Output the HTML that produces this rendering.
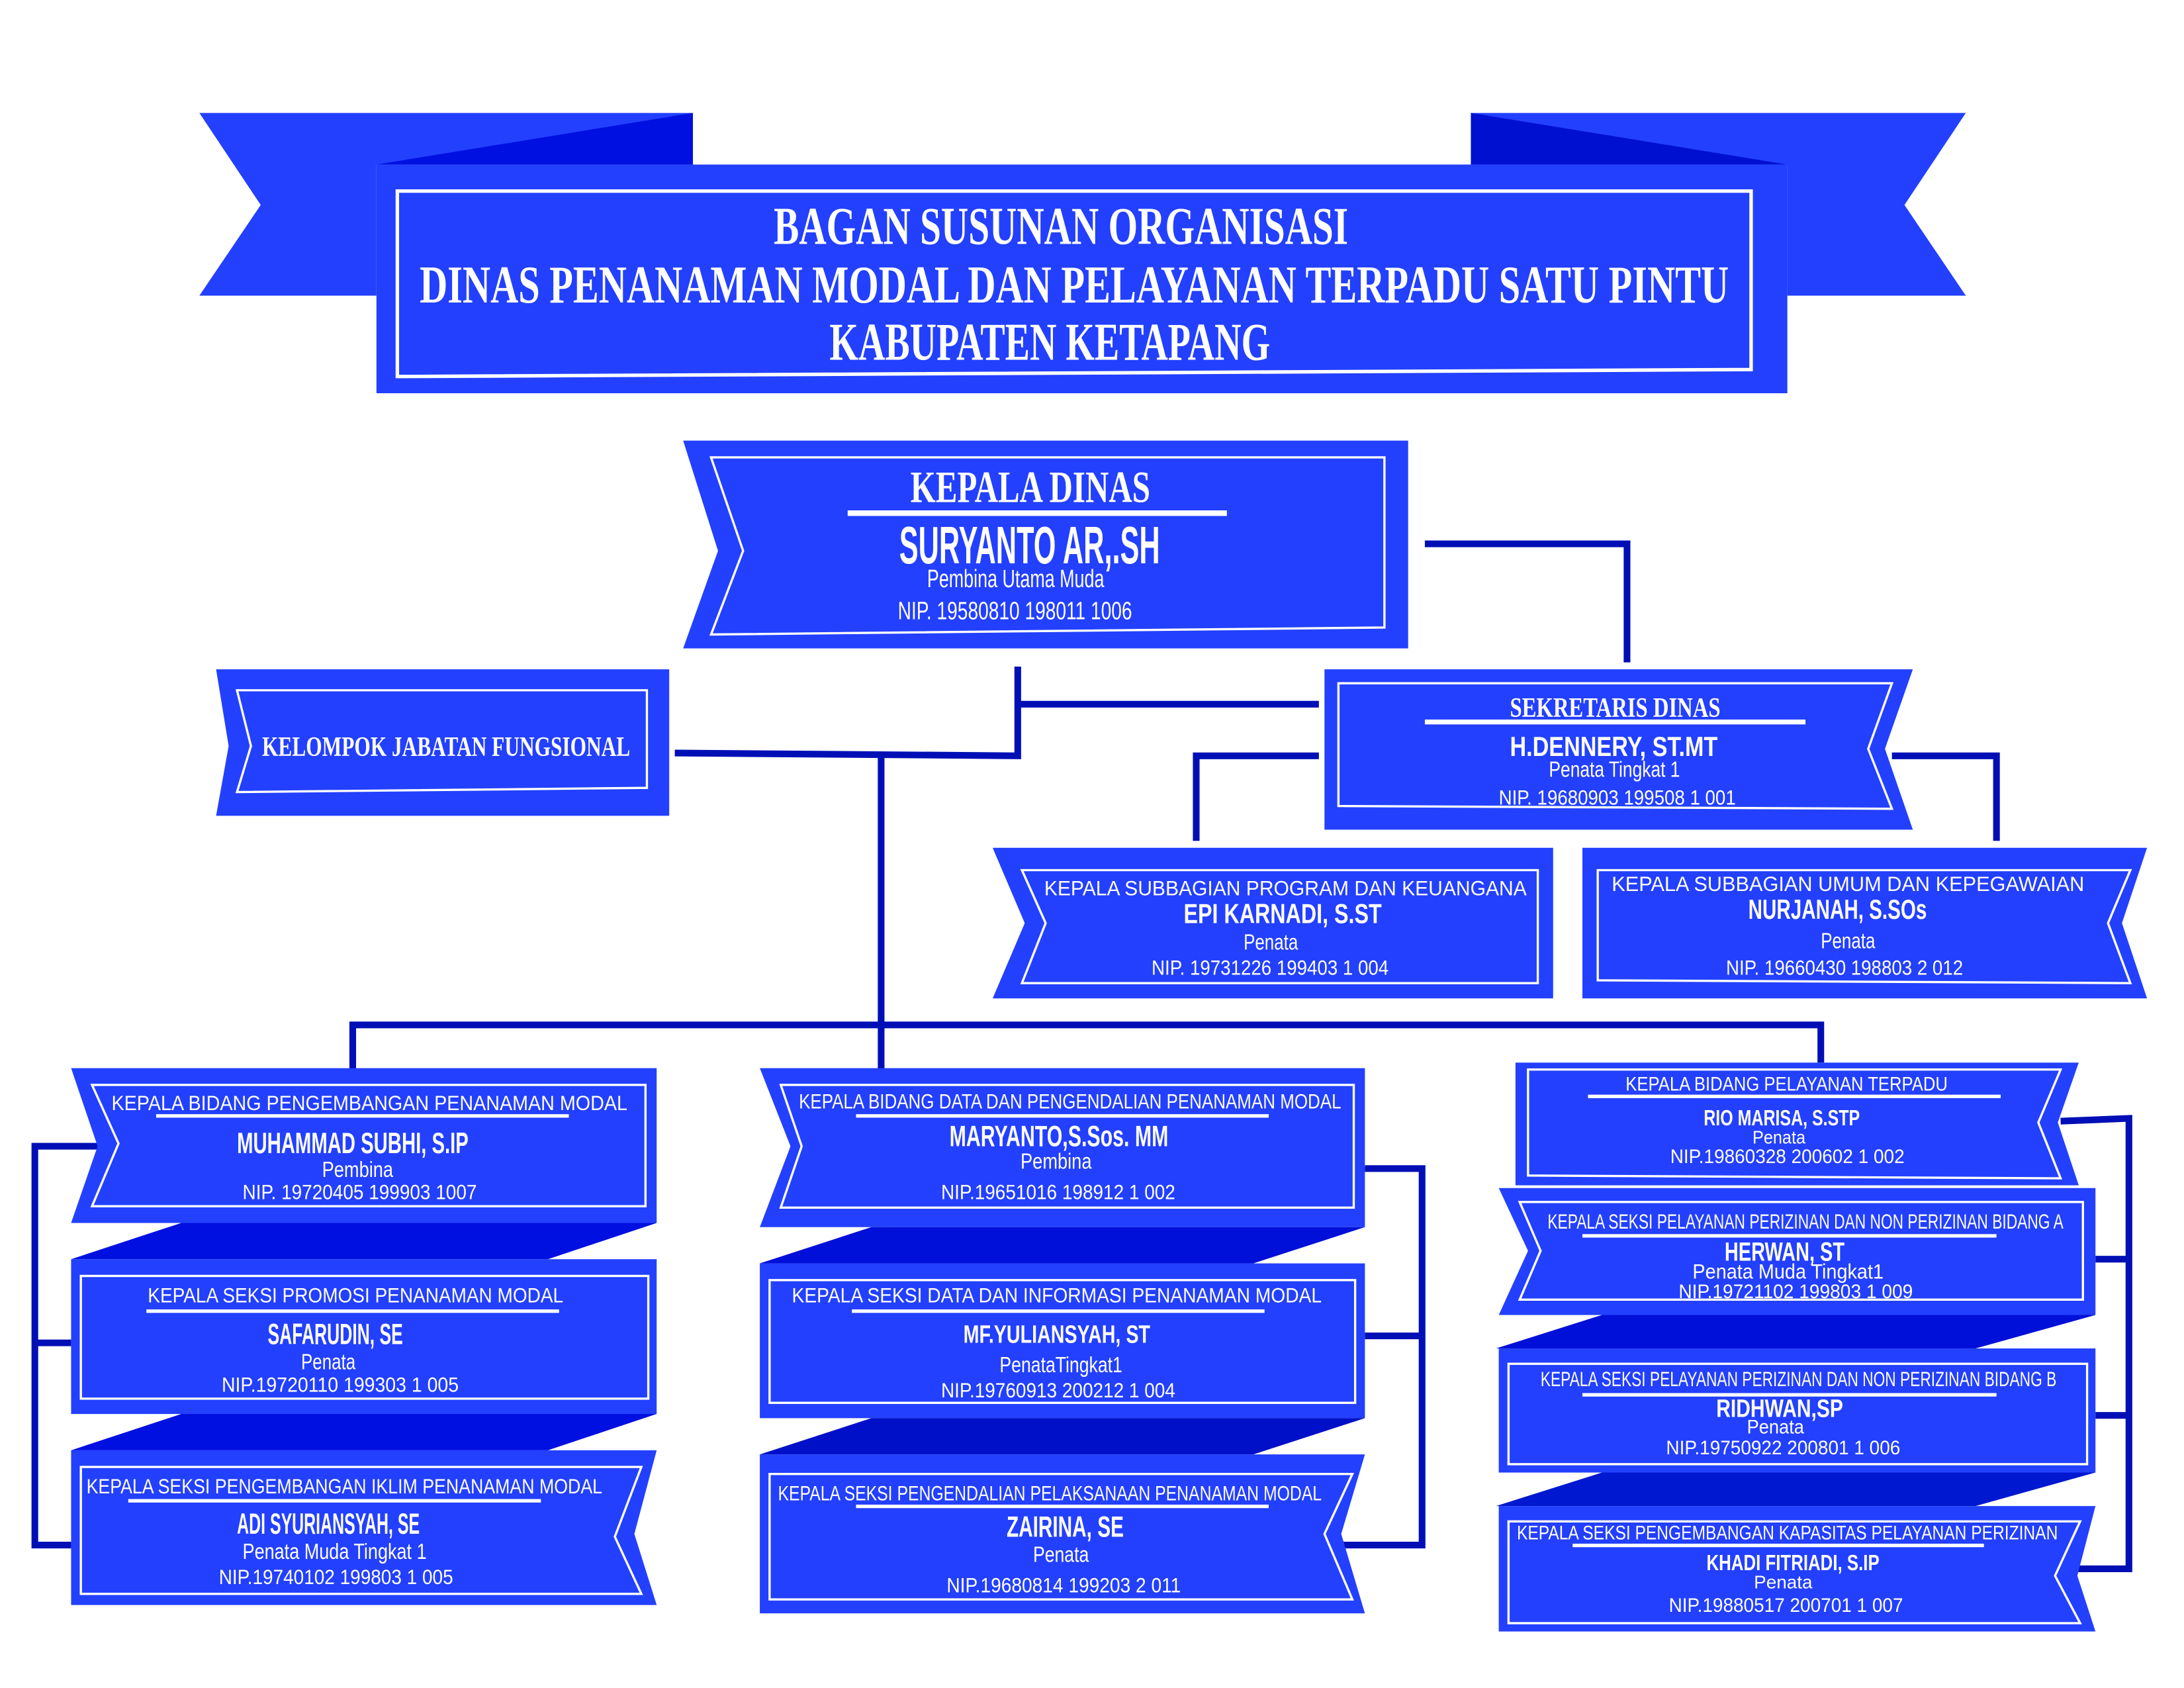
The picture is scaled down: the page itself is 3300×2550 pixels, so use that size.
<!DOCTYPE html>
<html><head><meta charset="utf-8"><style>
html,body{margin:0;padding:0;background:#fff;}
svg{display:block;}
.t{font-family:"Liberation Serif",serif;font-weight:bold;fill:#fff;}
.n{font-family:"Liberation Sans",sans-serif;font-weight:bold;fill:#fff;}
.r{font-family:"Liberation Sans",sans-serif;fill:#fff;}
</style></head><body>
<svg width="3300" height="2550" viewBox="0 0 1566.5 1210.5" preserveAspectRatio="none" xmlns="http://www.w3.org/2000/svg">
<g fill="#2340FF">
<polygon points="143,81 497,81 497,118 270,118 270,212 143,212 187,147"/>
<polygon points="1410,81 1055,81 1055,118 1282,118 1282,212 1410,212 1366,147"/>
<polygon points="270,118 497,81 497,118" fill="#0010E0"/>
<polygon points="1282,118 1055,81 1055,118" fill="#0010D0"/>
<rect x="270" y="118" width="1012" height="164"/>
</g>
<polygon points="285,137 1256,137 1256,265 285,270" fill="none" stroke="#fff" stroke-width="2.5"/>
<text class="t" x="555" y="175" font-size="38" textLength="412" lengthAdjust="spacingAndGlyphs">BAGAN SUSUNAN ORGANISASI</text>
<text class="t" x="301" y="217" font-size="38" textLength="939" lengthAdjust="spacingAndGlyphs">DINAS PENANAMAN MODAL DAN PELAYANAN TERPADU SATU PINTU</text>
<text class="t" x="595" y="258" font-size="38" textLength="316" lengthAdjust="spacingAndGlyphs">KABUPATEN KETAPANG</text>

<g stroke="#000FB5" stroke-width="4.8" fill="none">
<polyline points="1022,390 1167,390 1167,475"/>
<polyline points="730,478 730,542 484,540"/>
<line x1="730" y1="505" x2="946" y2="505"/>
<line x1="632" y1="541" x2="632" y2="770"/>
<polyline points="253,770 253,735 1306,735 1306,762"/>
<polyline points="946,542 858,542 858,603"/>
<polyline points="1357,542 1432,542 1432,603"/>
<polyline points="70,822 25,822 25,1108 51,1108"/>
<line x1="25" y1="963" x2="51" y2="963"/>
<polyline points="979,838 1020,838 1020,1108 963,1108"/>
<line x1="979" y1="958" x2="1020" y2="958"/>
<polyline points="1478,804 1527,802 1527,1125 1490,1125"/>
<line x1="1503" y1="903" x2="1527" y2="903"/>
<line x1="1503" y1="1015" x2="1527" y2="1015"/>
</g>

<g fill="#2340FF">
<polygon points="490,316 1010,316 1010,465 490,465 515,395"/>
<polygon points="155,480 480,480 480,585 155,585 164,535"/>
<polygon points="950,480 1372,480 1352,537 1372,595 950,595"/>
<polygon points="712,608 1114,608 1114,716 712,716 735,662"/>
<polygon points="1135,608 1540,608 1522,662 1540,716 1135,716"/>
<polygon points="51,766 471,766 471,877 51,877 70,822"/>
<polygon points="130,877 471,877 393,903 51,903" fill="#0010E0"/>
<rect x="51" y="903" width="420" height="111"/>
<polygon points="130,1014 471,1014 393,1040 51,1040" fill="#0010E0"/>
<polygon points="51,1040 471,1040 455,1100 471,1151 51,1151"/>
<polygon points="545,766 979,766 979,880 545,880 567,822"/>
<polygon points="625,880 979,880 899,906 545,906" fill="#0010D8"/>
<rect x="545" y="906" width="434" height="111"/>
<polygon points="625,1017 979,1017 899,1043 545,1043" fill="#0010C8"/>
<polygon points="545,1043 979,1043 962,1100 979,1157 545,1157"/>
<polygon points="1087,762 1491,762 1476,805 1491,850 1087,850"/>
<polygon points="1075,852 1503,852 1503,943 1075,943 1096,897"/>
<polygon points="1149,943 1503,943 1417,967 1073,967" fill="#0010D8"/>
<rect x="1075" y="967" width="428" height="89"/>
<polygon points="1149,1056 1503,1056 1417,1080 1073,1080" fill="#0018D0"/>
<polygon points="1075,1080 1503,1080 1490,1130 1503,1170 1075,1170"/>
</g>

<g fill="none" stroke="#fff" stroke-width="1.6">
<polygon points="510,328 993,328 993,450 510,455 533,395"/>
<polygon points="170,495 464,495 464,565 170,568 180,535"/>
<polygon points="960,490 1357,490 1340,537 1357,580 960,578"/>
<polygon points="733,624 1103,624 1103,705 733,705 750,662"/>
<polygon points="1146,624 1528,624 1512,662 1528,705 1146,703"/>
<polygon points="66,778 463,778 463,865 66,865 85,820"/>
<rect x="58" y="915" width="407" height="88"/>
<polygon points="58,1052 460,1052 441,1102 460,1143 58,1143"/>
<polygon points="560,778 971,778 971,866 560,866 575,822"/>
<rect x="552" y="918" width="420" height="88"/>
<polygon points="552,1057 970,1057 950,1100 970,1147 552,1147"/>
<polygon points="1096,767 1478,767 1462,805 1478,845 1096,843"/>
<polygon points="1090,862 1494,862 1494,932 1090,932 1105,897"/>
<rect x="1082" y="978" width="415" height="72"/>
<polygon points="1082,1091 1492,1091 1474,1130 1492,1164 1082,1164"/>
</g>

<g fill="#fff">
<rect x="608" y="366" width="272" height="4"/>
<rect x="1022" y="516" width="273" height="3.5"/>
<rect x="112" y="799" width="296" height="2.5"/>
<rect x="105" y="939" width="296" height="2.5"/>
<rect x="92" y="1075" width="296" height="2.5"/>
<rect x="614" y="799" width="296" height="2.5"/>
<rect x="611" y="939" width="296" height="2.5"/>
<rect x="614" y="1079" width="296" height="2.5"/>
<rect x="1139" y="785" width="296" height="2.5"/>
<rect x="1135" y="885" width="297" height="2.5"/>
<rect x="1135" y="999" width="297" height="2.5"/>
<rect x="1128" y="1107" width="295" height="2.5"/>
</g>

<text class="t" x="653" y="360" font-size="32" textLength="172" lengthAdjust="spacingAndGlyphs">KEPALA DINAS</text>
<text class="n" x="645" y="404" font-size="38" textLength="187" lengthAdjust="spacingAndGlyphs">SURYANTO AR,.SH</text>
<text class="r" x="665" y="421" font-size="18" textLength="127" lengthAdjust="spacingAndGlyphs">Pembina Utama Muda</text>
<text class="r" x="644" y="444" font-size="18" textLength="168" lengthAdjust="spacingAndGlyphs">NIP. 19580810 198011 1006</text>

<text class="t" x="188" y="542" font-size="20" textLength="264" lengthAdjust="spacingAndGlyphs">KELOMPOK JABATAN FUNGSIONAL</text>

<text class="t" x="1083" y="514" font-size="20" textLength="151" lengthAdjust="spacingAndGlyphs">SEKRETARIS DINAS</text>
<text class="n" x="1083" y="542" font-size="20" textLength="149" lengthAdjust="spacingAndGlyphs">H.DENNERY, ST.MT</text>
<text class="r" x="1111" y="557" font-size="16" textLength="94" lengthAdjust="spacingAndGlyphs">Penata Tingkat 1</text>
<text class="r" x="1075" y="577" font-size="15" textLength="170" lengthAdjust="spacingAndGlyphs">NIP. 19680903 199508 1 001</text>

<text class="r" x="749" y="642" font-size="15" textLength="346" lengthAdjust="spacingAndGlyphs">KEPALA SUBBAGIAN  PROGRAM DAN KEUANGANA</text>
<text class="n" x="849" y="662" font-size="20" textLength="142" lengthAdjust="spacingAndGlyphs">EPI KARNADI, S.ST</text>
<text class="r" x="892" y="681" font-size="16" textLength="39" lengthAdjust="spacingAndGlyphs">Penata</text>
<text class="r" x="826" y="699" font-size="15" textLength="170" lengthAdjust="spacingAndGlyphs">NIP. 19731226 199403 1 004</text>

<text class="r" x="1156" y="639" font-size="15" textLength="339" lengthAdjust="spacingAndGlyphs">KEPALA SUBBAGIAN UMUM DAN KEPEGAWAIAN</text>
<text class="n" x="1254" y="659" font-size="20" textLength="128" lengthAdjust="spacingAndGlyphs">NURJANAH, S.SOs</text>
<text class="r" x="1306" y="680" font-size="16" textLength="39" lengthAdjust="spacingAndGlyphs">Penata</text>
<text class="r" x="1238" y="699" font-size="15" textLength="170" lengthAdjust="spacingAndGlyphs">NIP. 19660430 198803 2 012</text>

<text class="r" x="80" y="796" font-size="15" textLength="370" lengthAdjust="spacingAndGlyphs">KEPALA BIDANG PENGEMBANGAN  PENANAMAN MODAL</text>
<text class="n" x="170" y="827" font-size="21" textLength="166" lengthAdjust="spacingAndGlyphs">MUHAMMAD SUBHI, S.IP</text>
<text class="r" x="231" y="844" font-size="16" textLength="51" lengthAdjust="spacingAndGlyphs">Pembina</text>
<text class="r" x="174" y="860" font-size="15" textLength="168" lengthAdjust="spacingAndGlyphs">NIP. 19720405 199903 1007</text>

<text class="r" x="106" y="934" font-size="15" textLength="298" lengthAdjust="spacingAndGlyphs">KEPALA SEKSI PROMOSI PENANAMAN MODAL</text>
<text class="n" x="192" y="964" font-size="21" textLength="97" lengthAdjust="spacingAndGlyphs">SAFARUDIN, SE</text>
<text class="r" x="216" y="982" font-size="16" textLength="39" lengthAdjust="spacingAndGlyphs">Penata</text>
<text class="r" x="159" y="998" font-size="15" textLength="170" lengthAdjust="spacingAndGlyphs">NIP.19720110  199303 1 005</text>

<text class="r" x="62" y="1071" font-size="15" textLength="370" lengthAdjust="spacingAndGlyphs">KEPALA SEKSI PENGEMBANGAN IKLIM PENANAMAN MODAL</text>
<text class="n" x="170" y="1100" font-size="21" textLength="131" lengthAdjust="spacingAndGlyphs">ADI SYURIANSYAH, SE</text>
<text class="r" x="174" y="1118" font-size="16" textLength="132" lengthAdjust="spacingAndGlyphs">Penata Muda Tingkat 1</text>
<text class="r" x="157" y="1136" font-size="15" textLength="168" lengthAdjust="spacingAndGlyphs">NIP.19740102 199803 1 005</text>

<text class="r" x="573" y="795" font-size="15" textLength="389" lengthAdjust="spacingAndGlyphs">KEPALA BIDANG  DATA DAN PENGENDALIAN PENANAMAN MODAL</text>
<text class="n" x="681" y="822" font-size="21" textLength="157" lengthAdjust="spacingAndGlyphs">MARYANTO,S.Sos. MM</text>
<text class="r" x="732" y="838" font-size="16" textLength="51" lengthAdjust="spacingAndGlyphs">Pembina</text>
<text class="r" x="675" y="860" font-size="15" textLength="168" lengthAdjust="spacingAndGlyphs">NIP.19651016 198912 1 002</text>

<text class="r" x="568" y="934" font-size="15" textLength="380" lengthAdjust="spacingAndGlyphs">KEPALA SEKSI DATA DAN INFORMASI PENANAMAN MODAL</text>
<text class="n" x="691" y="963" font-size="18" textLength="134" lengthAdjust="spacingAndGlyphs">MF.YULIANSYAH, ST</text>
<text class="r" x="717" y="984" font-size="16" textLength="88" lengthAdjust="spacingAndGlyphs">PenataTingkat1</text>
<text class="r" x="675" y="1002" font-size="15" textLength="168" lengthAdjust="spacingAndGlyphs">NIP.19760913 200212 1 004</text>

<text class="r" x="558" y="1076" font-size="15" textLength="390" lengthAdjust="spacingAndGlyphs">KEPALA SEKSI PENGENDALIAN PELAKSANAAN PENANAMAN MODAL</text>
<text class="n" x="722" y="1102" font-size="21" textLength="84" lengthAdjust="spacingAndGlyphs">ZAIRINA, SE</text>
<text class="r" x="741" y="1120" font-size="16" textLength="40" lengthAdjust="spacingAndGlyphs">Penata</text>
<text class="r" x="679" y="1142" font-size="15" textLength="168" lengthAdjust="spacingAndGlyphs">NIP.19680814 199203 2 011</text>

<text class="r" x="1166" y="782" font-size="14" textLength="231" lengthAdjust="spacingAndGlyphs">KEPALA BIDANG PELAYANAN TERPADU</text>
<text class="n" x="1222" y="807" font-size="16" textLength="112" lengthAdjust="spacingAndGlyphs">RIO MARISA, S.STP</text>
<text class="r" x="1257" y="820" font-size="13" textLength="38" lengthAdjust="spacingAndGlyphs">Penata</text>
<text class="r" x="1198" y="834" font-size="14" textLength="168" lengthAdjust="spacingAndGlyphs">NIP.19860328 200602 1 002</text>

<text class="r" x="1110" y="881" font-size="15" textLength="370" lengthAdjust="spacingAndGlyphs">KEPALA SEKSI PELAYANAN PERIZINAN DAN NON PERIZINAN BIDANG A</text>
<text class="n" x="1237" y="904" font-size="19" textLength="86" lengthAdjust="spacingAndGlyphs">HERWAN, ST</text>
<text class="r" x="1214" y="917" font-size="15" textLength="137" lengthAdjust="spacingAndGlyphs">Penata Muda Tingkat1</text>
<text class="r" x="1204" y="931" font-size="14" textLength="168" lengthAdjust="spacingAndGlyphs">NIP.19721102 199803 1 009</text>

<text class="r" x="1105" y="994" font-size="15" textLength="370" lengthAdjust="spacingAndGlyphs">KEPALA SEKSI PELAYANAN PERIZINAN DAN NON PERIZINAN BIDANG B</text>
<text class="n" x="1231" y="1016" font-size="18" textLength="91" lengthAdjust="spacingAndGlyphs">RIDHWAN,SP</text>
<text class="r" x="1253" y="1028" font-size="14" textLength="41" lengthAdjust="spacingAndGlyphs">Penata</text>
<text class="r" x="1195" y="1043" font-size="14" textLength="168" lengthAdjust="spacingAndGlyphs">NIP.19750922 200801 1 006</text>

<text class="r" x="1088" y="1104" font-size="14" textLength="388" lengthAdjust="spacingAndGlyphs">KEPALA SEKSI PENGEMBANGAN KAPASITAS  PELAYANAN PERIZINAN</text>
<text class="n" x="1224" y="1126" font-size="16" textLength="124" lengthAdjust="spacingAndGlyphs">KHADI FITRIADI, S.IP</text>
<text class="r" x="1258" y="1139" font-size="13" textLength="42" lengthAdjust="spacingAndGlyphs">Penata</text>
<text class="r" x="1197" y="1156" font-size="14" textLength="168" lengthAdjust="spacingAndGlyphs">NIP.19880517 200701 1 007</text>
</svg>
</body></html>
